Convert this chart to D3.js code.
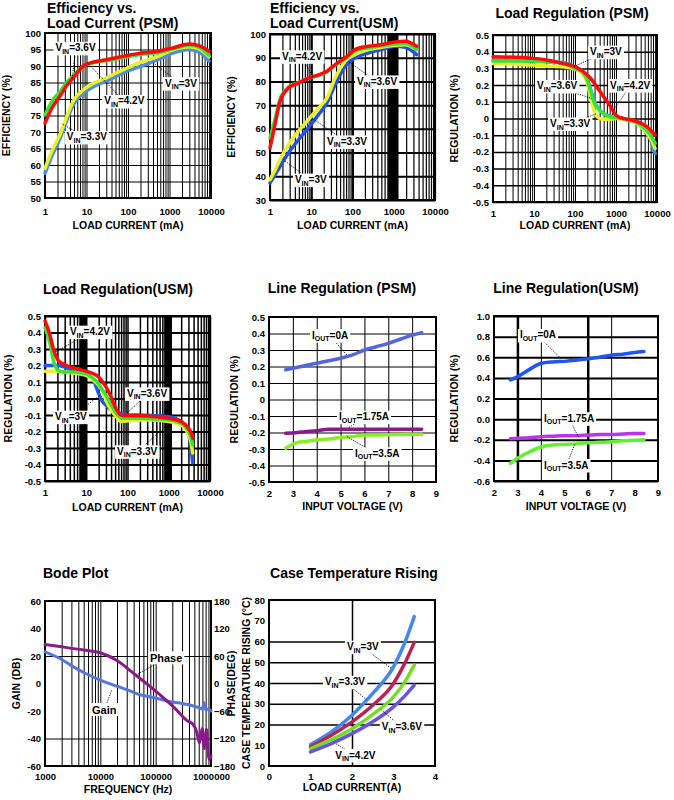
<!DOCTYPE html>
<html><head><meta charset="utf-8">
<script src="https://cdn.jsdelivr.net/npm/d3@7"></script>
<style>
body{margin:0;background:#fff}
svg{display:block}
text{font-family:'Liberation Sans',Arial,Helvetica,sans-serif;font-weight:bold;fill:#000}
</style>
</head><body><script>
// ---------- DATA ----------
// Efficiency vs Load Current (PSM)
const effPsmCurrent = [1, 1.5, 2.3, 3.3, 4.8, 8.4, 15, 30, 80, 200, 500, 1200, 3000, 5500, 9000];
const effPsm42 = [72.7, 77.5, 80.9, 84, 86.4, 90, 91.2, 91.9, 93, 93.9, 94.4, 95.5, 96.7, 96.0, 94.5];
const effPsm36 = [75.2, 79.5, 82.2, 85, 87, 90, 91, 91.6, 92.6, 93.5, 94, 95.2, 96.3, 95.5, 93.3];
const effPsm33 = [59, 64.5, 69.2, 74.5, 79.4, 82.8, 84.8, 86.4, 89, 91.2, 92.8, 94.9, 95.8, 95.0, 92.8];
const effPsm30 = [57.5, 63, 68, 73.3, 78.2, 81.8, 83.8, 85.4, 88, 89.9, 91.8, 93.9, 95, 94, 91.5];
// Efficiency vs Load Current (USM)
const effUsmCurrent = [1, 1.32, 1.75, 2.8, 4.9, 8.5, 15, 24, 38, 66, 115, 240, 500, 1070, 1900, 3600];
const effUsm42 = [52, 61.8, 71.6, 77.2, 79.3, 81.4, 82.8, 84.3, 87.1, 89.9, 93.4, 94.8, 95.5, 96.6, 96.9, 94.8];
const effUsm36 = [56.1, 64, 72.5, 77.5, 79.5, 81.3, 82.6, 84, 86.8, 89.5, 92.8, 94.2, 95, 95.8, 96, 93.4];
const effUsm33 = [38.6, 42.5, 47, 53.3, 59, 63.9, 68.8, 73, 81.4, 88.5, 91.3, 93.4, 94.4, 95.2, 95.5, 93.4];
const effUsm30 = [37.2, 40.5, 44.2, 49.8, 55.4, 60.4, 66, 70.9, 78.6, 86.4, 89.9, 92, 93.4, 94.8, 94.4, 91.3];
// Load Regulation (PSM)
const lrPsmCurrent = [1, 10, 20, 50, 100, 150, 200, 250, 300, 400, 500, 700, 1000, 1500, 2000, 3000, 5000, 7000, 9000];
const lrPsm42 = [0.37, 0.36, 0.35, 0.33, 0.31, 0.285, 0.26, 0.235, 0.21, 0.165, 0.13, 0.08, 0.02, 0.0, -0.005, -0.015, -0.04, -0.07, -0.1];
const lrPsm36 = [0.345, 0.345, 0.34, 0.33, 0.30, 0.28, 0.23, 0.15, 0.09, 0.05, 0.03, 0.01, 0.005, 0.0, -0.01, -0.02, -0.06, -0.1, -0.15];
const lrPsm33 = [0.33, 0.32, 0.315, 0.31, 0.295, 0.27, 0.21, 0.11, 0.04, 0.0, -0.005, -0.005, 0.0, -0.005, -0.01, -0.025, -0.07, -0.12, -0.18];
const lrPsm30 = [0.35, 0.345, 0.34, 0.335, 0.31, 0.285, 0.24, 0.16, 0.1, 0.05, 0.03, 0.015, 0.005, 0.0, -0.01, -0.025, -0.07, -0.13, -0.21];
// Load Regulation (USM)
const lrUsmCurrent = [1, 1.3, 1.6, 2.1, 3, 5, 10, 15, 20, 25, 30, 40, 50, 70, 100, 200, 500, 1000, 2000, 3000, 3500, 3800];
const lrUsm42 = [0.47, 0.39, 0.30, 0.23, 0.205, 0.185, 0.165, 0.15, 0.13, 0.10, 0.07, 0.01, -0.05, -0.1, -0.105, -0.105, -0.11, -0.12, -0.14, -0.18, -0.21, -0.24];
const lrUsm36 = [0.43, 0.34, 0.23, 0.17, 0.16, 0.16, 0.15, 0.12, 0.09, 0.05, 0.02, -0.04, -0.08, -0.115, -0.12, -0.12, -0.125, -0.13, -0.15, -0.2, -0.24, -0.28];
const lrUsm33 = [0.165, 0.165, 0.165, 0.165, 0.16, 0.155, 0.14, 0.11, 0.08, 0.04, -0.01, -0.07, -0.1, -0.14, -0.135, -0.13, -0.13, -0.14, -0.16, -0.22, -0.27, -0.33];
const lrUsm30 = [0.2, 0.2, 0.2, 0.2, 0.19, 0.17, 0.15, 0.11, 0.03, -0.02, -0.04, -0.07, -0.08, -0.09, -0.1, -0.1, -0.105, -0.11, -0.14, -0.21, -0.31, -0.39];
// Line Regulation (PSM)
const linePsmVin = [2.7, 3.2, 3.5, 4, 4.5, 5, 5.5, 6, 6.5, 7, 7.5, 8, 8.4];
const linePsm0 = [0.18, 0.195, 0.205, 0.22, 0.235, 0.25, 0.27, 0.30, 0.32, 0.34, 0.365, 0.39, 0.405];
const linePsm175 = [-0.205, -0.2, -0.195, -0.19, -0.18, -0.18, -0.18, -0.18, -0.18, -0.18, -0.18, -0.18, -0.18];
const linePsm35 = [-0.296, -0.26, -0.255, -0.245, -0.24, -0.23, -0.225, -0.215, -0.215, -0.213, -0.212, -0.21, -0.21];
// Line Regulation (USM)
const lineUsmVin = [2.7, 3, 3.5, 4, 4.5, 5, 5.5, 6, 6.5, 7, 7.5, 8, 8.4];
const lineUsm0 = [0.38, 0.41, 0.48, 0.54, 0.555, 0.56, 0.57, 0.585, 0.60, 0.62, 0.63, 0.645, 0.655];
const lineUsm175 = [-0.19, -0.185, -0.18, -0.17, -0.165, -0.16, -0.16, -0.155, -0.15, -0.15, -0.145, -0.14, -0.14];
const lineUsm35 = [-0.43, -0.38, -0.32, -0.27, -0.25, -0.245, -0.24, -0.23, -0.225, -0.22, -0.21, -0.205, -0.2];
// Bode plot
const bodeFreq = [1000, 2000, 3000, 5000, 10000, 20000, 30000, 50000, 100000, 200000, 300000, 500000, 600000, 700000, 750000, 800000, 900000, 1000000];
const bodeGain = [23, 17.5, 13, 8, 2.5, -2, -4.5, -8, -10.5, -13.5, -14.5, -16.5, -17.5, -18.5, -14, -19, -18.5, -20];
const phaseFreq = [1000, 2000, 5000, 10000, 20000, 40000, 80000, 140000, 240000, 360000, 480000, 550000, 620000, 690000, 760000, 830000, 920000, 1000000];
const bodePhase = [85, 80, 73, 67, 50, 22, -7, -32, -58, -80, -90, -105, -130, -98, -142, -100, -165, -158];
// Case temperature rising
const caseCurrent = [1, 1.5, 2, 2.5, 3, 3.25, 3.5];
const case30 = [10.3, 16.4, 24.5, 35, 47.8, 58.3, 72];
const case33 = [9.2, 14.8, 21.3, 29.3, 39.8, 48.6, 59.6];
const case36 = [8.4, 12.7, 18, 24.8, 33.3, 39.8, 48.6];
const case42 = [6.8, 10.8, 15.6, 21.3, 28.5, 33.3, 39];

// tick labels
const loadTicks = [1, 10, 100, 1000, 10000];
const effPsmTicks = d3.range(50, 100.1, 5);
const effUsmTicks = d3.range(30, 100.1, 10);
const regTicks = d3.range(-0.5, 0.51, 0.1).map(v => +v.toFixed(1));
const vinTicks = [2, 3, 4, 5, 6, 7, 8, 9];
const regUsmLineTicks = [-0.6, -0.4, -0.2, 0, 0.2, 0.4, 0.6, 0.8, 1.0];
const freqTicks = [1000, 10000, 100000, 1000000];
const gainTicks = [-60, -40, -20, 0, 20, 40, 60];
const phaseTicks = [-180, -120, -60, 0, 60, 120, 180];
const tempTicks = d3.range(0, 81, 10);
const caseTicks = [0, 1, 2, 3, 4];

// ---------- DRAWING ----------
const svg = d3.select('body').append('svg').attr('width', 674).attr('height', 800);

function logGrid(lo, hi) {
  const out = [];
  for (let d = lo; d < hi; d *= 10) for (let k = 1; k < 10; k++) out.push(d * k);
  out.push(hi);
  return out;
}
const zip = (xs, ys) => xs.map((v, i) => [v, ys[i]]);

function panel(c) {
  const g = svg.append('g');
  const [x0, y0, x1, y1] = c.box;
  const x = (c.xLog ? d3.scaleLog() : d3.scaleLinear()).domain(c.xDomain).range([x0, x1]);
  const y = d3.scaleLinear().domain(c.yDomain).range([y1, y0]);
  (c.vGrid || []).forEach(([vals, w]) => {
    const gg = g.append('g').attr('transform', `translate(0,${y1})`)
      .call(d3.axisBottom(x).tickValues(vals).tickSize(-(y1 - y0)).tickFormat(''));
    gg.select('.domain').remove();
    gg.selectAll('line').attr('stroke', '#000').attr('stroke-width', w);
  });
  (c.hGrid || []).forEach(([vals, w]) => {
    const gg = g.append('g').attr('transform', `translate(${x0},0)`)
      .call(d3.axisLeft(y).tickValues(vals).tickSize(-(x1 - x0)).tickFormat(''));
    gg.select('.domain').remove();
    gg.selectAll('line').attr('stroke', '#000').attr('stroke-width', w);
  });
  g.append('rect').attr('x', x0).attr('y', y0).attr('width', x1 - x0).attr('height', y1 - y0)
    .attr('fill', 'none').attr('stroke', '#000').attr('stroke-width', 2);
  const xa = g.append('g').attr('transform', `translate(0,${y1})`)
    .call(d3.axisBottom(x).tickValues(c.xTicks).tickFormat(c.xFmt || (d => d)).tickSize(0).tickPadding(c.xPad || 8));
  const ya = g.append('g').attr('transform', `translate(${x0},0)`)
    .call(d3.axisLeft(y).tickValues(c.yTicks).tickFormat(c.yFmt || (d => d)).tickSize(0).tickPadding(4));
  [xa, ya].forEach(a => {
    a.select('.domain').remove();
    a.attr('font-family', null).attr('font-size', null);
    a.selectAll('text').attr('font-size', 9.5).attr('fill', '#000');
  });
  let y2 = null;
  if (c.y2Domain) {
    y2 = d3.scaleLinear().domain(c.y2Domain).range([y1, y0]);
    const ra = g.append('g').attr('transform', `translate(${x1},0)`)
      .call(d3.axisRight(y2).tickValues(c.y2Ticks).tickSize(0).tickPadding(3));
    ra.select('.domain').remove();
    ra.attr('font-family', null).attr('font-size', null);
    ra.selectAll('text').attr('font-size', 9.5).attr('fill', '#000');
    g.append('text').attr('transform', `translate(${c.y2TitleX},${(y0 + y1) / 2}) rotate(-90)`)
      .attr('text-anchor', 'middle').attr('font-size', 10.5).text(c.y2Title);
  }
  c.series.forEach(s => {
    const sy = s.axis2 ? y2 : y;
    const line = d3.line().x(d => x(d[0])).y(d => sy(d[1])).curve(d3.curveMonotoneX);
    g.append('path').datum(zip(s.x, s.y)).attr('d', line)
      .attr('fill', 'none').attr('stroke', s.color).attr('stroke-width', s.w || 3.5)
      .attr('stroke-linejoin', 'round').attr('stroke-linecap', 'round');
  });
  (c.labels || []).forEach(L => {
    const lg = g.append('g');
    const lead = lg.append('line');
    const rect = lg.append('rect').attr('fill', '#fff');
    const t = lg.append('text').attr('x', x(L.at[0]) + 2).attr('y', y(L.at[1]) + 3.5).attr('font-size', L.size || 10);
    if (L.sub) {
      t.append('tspan').text(L.pre);
      t.append('tspan').attr('font-size', 7).attr('dy', 2.5).text(L.sub);
      t.append('tspan').attr('dy', -2.5).text(L.post);
    } else t.text(L.pre);
    const b = t.node().getBBox();
    rect.attr('x', b.x - 2).attr('y', b.y - 0.5).attr('width', b.width + 4).attr('height', b.height + 1);
    lead.attr('x1', b.x + b.width / 2).attr('y1', b.y + b.height / 2).attr('x2', x(L.to[0])).attr('y2', y(L.to[1]))
      .attr('stroke', '#000').attr('stroke-width', 0.9).attr('stroke-dasharray', '1.2,1.2');
  });
  c.title.forEach((tl, i) => {
    g.append('text').attr('x', c.titleX).attr('y', c.titleY + i * 14.5).attr('text-anchor', c.titleAnchor || 'start')
      .attr('font-size', 14).text(tl);
  });
  g.append('text').attr('x', (x0 + x1) / 2).attr('y', y1 + (c.xTitleDy || 30)).attr('text-anchor', 'middle')
    .attr('font-size', 10.5).text(c.xTitle);
  g.append('text').attr('transform', `translate(${c.yTitleX},${(y0 + y1) / 2}) rotate(-90)`)
    .attr('text-anchor', 'middle').attr('font-size', 10.5).text(c.yTitle);
}

const RED = '#ff0a0a', GREEN = '#33e633', YELLOW = '#eaf02a';
const V = (post, at, to) => ({ pre: 'V', sub: 'IN', post, at, to });
const I = (post, at, to) => ({ pre: 'I', sub: 'OUT', post, at, to });

panel({
  box: [45, 33, 211, 198], xLog: true, xDomain: [1, 10000], yDomain: [50, 100],
  vGrid: [[logGrid(1, 10000), 1]], hGrid: [[effPsmTicks, 1]],
  xTicks: loadTicks, yTicks: effPsmTicks, xPad: 10,
  series: [
    { x: effPsmCurrent, y: effPsm30, color: '#4a8fe6' },
    { x: effPsmCurrent, y: effPsm33, color: YELLOW },
    { x: effPsmCurrent, y: effPsm36, color: GREEN },
    { x: effPsmCurrent, y: effPsm42, color: RED }
  ],
  labels: [
    V('=3.6V', [1.6, 95.5], [4.5, 86]),
    V('=4.2V', [24, 79.4], [10.5, 91]),
    V('=3V', [700, 84.8], [400, 91]),
    V('=3.3V', [3.0, 68.5], [2.5, 72.5])
  ],
  title: ['Efficiency vs.', 'Load Current (PSM)'], titleX: 47, titleY: 13,
  xTitle: 'LOAD CURRENT (mA)', xTitleDy: 31, yTitle: 'EFFICIENCY (%)', yTitleX: 10
});

panel({
  box: [270, 34, 435, 200], xLog: true, xDomain: [1, 10000], yDomain: [30, 100],
  vGrid: [[logGrid(1, 10000), 1.2], [[10, 100, 1000], 2], [[750, 800, 850, 900, 950, 1050, 1100, 1150, 1200], 2]],
  hGrid: [[effUsmTicks, 2]],
  xTicks: loadTicks, yTicks: effUsmTicks, xPad: 8,
  series: [
    { x: effUsmCurrent, y: effUsm30, color: '#2050f0' },
    { x: effUsmCurrent, y: effUsm33, color: YELLOW },
    { x: effUsmCurrent, y: effUsm36, color: GREEN },
    { x: effUsmCurrent, y: effUsm42, color: RED }
  ],
  labels: [
    V('=4.2V', [1.75, 90.6], [11, 81.5]),
    V('=3.6V', [115, 80], [79, 88.5]),
    V('=3.3V', [21.5, 54.7], [10.2, 64.6]),
    V('=3V', [3.6, 38.6], [2.1, 47])
  ],
  title: ['Efficiency vs.', 'Load Current(USM)'], titleX: 270, titleY: 13,
  xTitle: 'LOAD CURRENT (mA)', xTitleDy: 29, yTitle: 'EFFICIENCY (%)', yTitleX: 235
});

panel({
  box: [493, 35, 657, 202], xLog: true, xDomain: [1, 10000], yDomain: [-0.5, 0.5],
  vGrid: [[logGrid(1, 10000), 1]], hGrid: [[regTicks, 1.5]],
  xTicks: loadTicks, yTicks: regTicks, yFmt: d => (d === 0 ? '0' : d.toFixed(1)), xPad: 8,
  series: [
    { x: lrPsmCurrent, y: lrPsm30, color: '#3a8ae8' },
    { x: lrPsmCurrent, y: lrPsm33, color: YELLOW },
    { x: lrPsmCurrent, y: lrPsm36, color: GREEN },
    { x: lrPsmCurrent, y: lrPsm42, color: RED }
  ],
  labels: [
    V('=3V', [207, 0.40], [91, 0.31]),
    V('=3.6V', [10.6, 0.195], [255, 0.12]),
    V('=4.2V', [640, 0.2], [860, 0.05]),
    V('=3.3V', [22, -0.03], [340, 0.03])
  ],
  title: ['Load Regulation (PSM)'], titleX: 572, titleY: 18, titleAnchor: 'middle',
  xTitle: 'LOAD CURRENT (mA)', xTitleDy: 27, yTitle: 'REGULATION (%)', yTitleX: 458
});

panel({
  box: [45, 316, 210, 481], xLog: true, xDomain: [1, 10000], yDomain: [-0.5, 0.5],
  vGrid: [[logGrid(1, 10000), 1.5], [[7, 7.5, 8, 8.5, 9, 9.5], 2], [[800, 850, 900, 950, 1000, 1050, 1100], 2]],
  hGrid: [[regTicks, 2]],
  xTicks: loadTicks, yTicks: regTicks, yFmt: d => d.toFixed(1), xPad: 8,
  series: [
    { x: lrUsmCurrent, y: lrUsm30, color: '#2255ee' },
    { x: lrUsmCurrent, y: lrUsm33, color: YELLOW },
    { x: lrUsmCurrent, y: lrUsm36, color: GREEN },
    { x: lrUsmCurrent, y: lrUsm42, color: RED }
  ],
  labels: [
    V('=4.2V', [3.6, 0.405], [1.75, 0.28]),
    V('=3.6V', [87, 0.031], [79, -0.11]),
    V('=3V', [1.56, -0.11], [21.5, 0.02]),
    V('=3.3V', [50, -0.32], [900, -0.16])
  ],
  title: ['Load Regulation(USM)'], titleX: 118, titleY: 294, titleAnchor: 'middle',
  xTitle: 'LOAD CURRENT (mA)', xTitleDy: 30, yTitle: 'REGULATION (%)', yTitleX: 12
});

panel({
  box: [269, 317, 436, 482], xLog: false, xDomain: [2, 9], yDomain: [-0.5, 0.5],
  vGrid: [[vinTicks, 1]], hGrid: [[regTicks, 1]],
  xTicks: vinTicks, yTicks: regTicks, yFmt: d => (d === 0 ? '0' : d.toFixed(1)), xPad: 8,
  series: [
    { x: linePsmVin, y: linePsm0, color: '#5566dd' },
    { x: linePsmVin, y: linePsm175, color: '#8a1a8a' },
    { x: linePsmVin, y: linePsm35, color: '#88ee22' }
  ],
  labels: [
    I('=0A', [3.72, 0.39], [5.26, 0.27]),
    I('=1.75A', [4.85, -0.104], [5.35, -0.17]),
    I('=3.5A', [5.52, -0.326], [5.26, -0.225])
  ],
  title: ['Line Regulation (PSM)'], titleX: 342, titleY: 293, titleAnchor: 'middle',
  xTitle: 'INPUT VOLTAGE (V)', xTitleDy: 28, yTitle: 'REGULATION (%)', yTitleX: 238
});

panel({
  box: [494, 316, 658, 481], xLog: false, xDomain: [2, 9], yDomain: [-0.6, 1.0],
  vGrid: [[[4, 7], 1], [[3, 6], 2.5]], hGrid: [[regUsmLineTicks, 2]],
  xTicks: vinTicks, yTicks: regUsmLineTicks, yFmt: d => d.toFixed(1), xPad: 8,
  series: [
    { x: lineUsmVin, y: lineUsm0, color: '#1f55f0' },
    { x: lineUsmVin, y: lineUsm175, color: '#bb33ee' },
    { x: lineUsmVin, y: lineUsm35, color: '#66ee33' }
  ],
  labels: [
    I('=0A', [3.02, 0.816], [4.89, 0.58]),
    I('=1.75A', [4.05, 0.008], [5.6, -0.17]),
    I('=3.5A', [4.05, -0.445], [5.46, -0.235])
  ],
  title: ['Line Regulation(USM)'], titleX: 566, titleY: 293, titleAnchor: 'middle',
  xTitle: 'INPUT VOLTAGE (V)', xTitleDy: 29, yTitle: 'REGULATION (%)', yTitleX: 458
});

panel({
  box: [45, 601, 211, 766], xLog: true, xDomain: [1000, 1000000], yDomain: [-60, 60],
  y2Domain: [-180, 180], y2Ticks: phaseTicks, y2Title: 'PHASE(DEG)', y2TitleX: 235,
  vGrid: [[logGrid(1000, 1000000), 1]], hGrid: [[[20, -40], 1]],
  xTicks: freqTicks, yTicks: gainTicks, xPad: 7,
  series: [
    { x: bodeFreq, y: bodeGain, color: '#5577dd', w: 3 },
    { x: phaseFreq, y: bodePhase, color: '#8a1a8a', w: 3, axis2: true }
  ],
  labels: [
    { pre: 'Phase', size: 11, at: [72400, 18.3], to: [45300, 6.2] },
    { pre: 'Gain', size: 11, at: [6520, -19.3], to: [16100, -4.7] }
  ],
  title: ['Bode Plot'], titleX: 43, titleY: 578,
  xTitle: 'FREQUENCY (Hz)', xTitleDy: 27, yTitle: 'GAIN (DB)', yTitleX: 20
});

panel({
  box: [269, 600, 435, 766], xLog: false, xDomain: [0, 4], yDomain: [0, 80],
  vGrid: [[[2], 1.5]], hGrid: [[[20, 30, 40, 50, 60], 1.5]],
  xTicks: caseTicks, yTicks: tempTicks, xPad: 7,
  series: [
    { x: caseCurrent, y: case30, color: '#4488ee' },
    { x: caseCurrent, y: case33, color: '#bb2255' },
    { x: caseCurrent, y: case36, color: '#77dd22' },
    { x: caseCurrent, y: case42, color: '#6655dd' }
  ],
  labels: [
    V('=3V', [1.83, 57.5], [2.95, 47]),
    V('=3.3V', [1.3, 40.6], [2.35, 32]),
    V('=3.6V', [2.67, 19], [2.71, 27]),
    V('=4.2V', [1.55, 5.3], [1.59, 11])
  ],
  title: ['Case Temperature Rising'], titleX: 354, titleY: 578, titleAnchor: 'middle',
  xTitle: 'LOAD CURRENT(A)', xTitleDy: 25, yTitle: 'CASE TEMPERATURE RISING (°C)', yTitleX: 250
});
</script></body></html>
